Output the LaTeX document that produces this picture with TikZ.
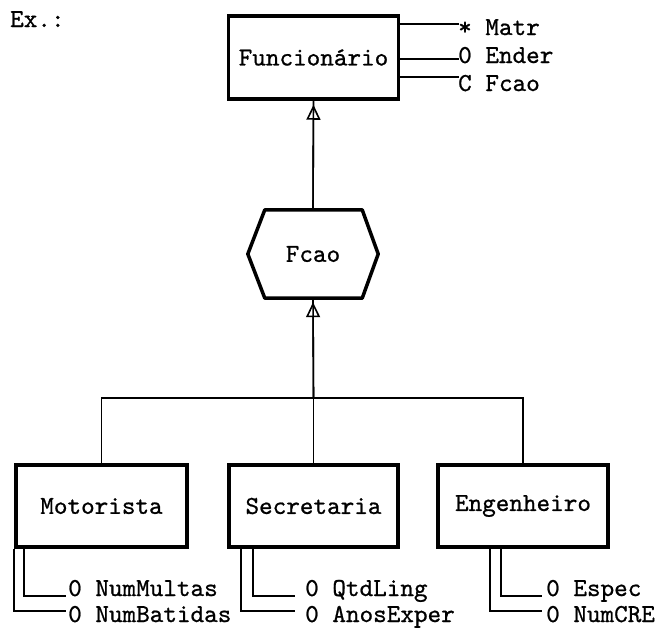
\documentclass[tikz,border=0pt]{standalone}
\usepackage{fontspec}
\newfontfamily\diagfont{lmmono10-regular.otf}[FakeBold=0.8]
\usetikzlibrary{arrows.meta,calc}
\begin{document}
\begin{tikzpicture}[x=1pt,y=-1pt,
  every node/.style={font=\diagfont\fontsize{25.9}{30}\selectfont, inner sep=0},
  entity/.style={draw, line width=3.5pt, minimum width=170, minimum height=83},
  attr/.style={anchor=base west},
  link/.style={line width=1.6pt},
  isa/.style={line width=1.6pt, shorten >=4pt,
    -{Triangle[open, width=14pt, length=15pt, line width=1.6pt]}}
]
\useasboundingbox (0,0) rectangle (660,629);

% caption
\node[attr] (ex) at (10,27) {Ex.:};

% superclass entity and its attributes
\node[entity] (func) at (313.5,57.5) {Funcionário};
\coordinate (fa1) at (459,24);
\coordinate (fa2) at (459,59);
\coordinate (fa3) at (459,77);
\node[attr] (matr)  at (458,35) {* Matr};
\node[attr] (ender) at (458,63) {0 Ender};
\node[attr] (fcaoa) at (458,91) {C Fcao};
\draw[link] (func.east |- fa1) -- (fa1);
\draw[link] (func.east |- fa2) -- (fa2);
\draw[link] (func.east |- fa3) -- (fa3);

% specialisation criterion (hexagon)
\node[minimum width=130, minimum height=88] (fcao) at (313,254) {Fcao};
\draw[line width=3.5pt, line join=round]
  ($(fcao.north west)+(17,0)$) -- ($(fcao.north east)+(-16,0)$) -- (fcao.east)
  -- ($(fcao.south east)+(-16,0)$) -- ($(fcao.south west)+(17,0)$) -- (fcao.west) -- cycle;

% subclass entities
\node[entity, minimum width=171, minimum height=82] (motor) at (101.5,506) {Motorista};
\node[entity, minimum width=169, minimum height=82] (secr)  at (313.5,506) {Secretaria};
\node[entity, minimum width=170, minimum height=82] (eng)   at (523,506)   {Engenheiro};

% generalisation links
\draw[link] (fcao.north) -- (func.south);
\draw[isa]  (fcao.north) -- (func.south);
\coordinate (bus) at (313.5,398);
\draw[link] (bus) -- (fcao.south);
\draw[isa]  (bus) -- (fcao.south);
\draw[link] (motor.north) |- (bus) -| (eng.north);
\draw[link] (secr.north) -- (bus);

% Motorista attributes
\coordinate (m1) at (66,596);
\coordinate (m2) at (66,611);
\node[attr] (nummultas)  at (68,596) {0 NumMultas};
\node[attr] (numbatidas) at (68,622) {0 NumBatidas};
\draw[link] ($(motor.south west)+(10,0)$) |- (m1);
\draw[link] ($(motor.south west)+(-0.5,0)$) |- (m2);

% Secretaria attributes
\coordinate (s1) at (295,596);
\coordinate (s2) at (295,611);
\node[attr] (qtdling)    at (305,596) {0 QtdLing};
\node[attr] (anosexper)  at (305,622) {0 AnosExper};
\draw[link] ($(secr.south west)+(26,0)$) |- (s1);
\draw[link] ($(secr.south west)+(14,0)$) |- (s2);

% Engenheiro attributes
\coordinate (e1) at (542,596);
\coordinate (e2) at (542,611);
\node[attr] (espec)  at (546,596) {0 Espec};
\node[attr] (numcre) at (546,622) {0 NumCRE};
\draw[link] ($(eng.south west)+(65,0)$) |- (e1);
\draw[link] ($(eng.south west)+(54,0)$) |- (e2);
\end{tikzpicture}
\end{document}
